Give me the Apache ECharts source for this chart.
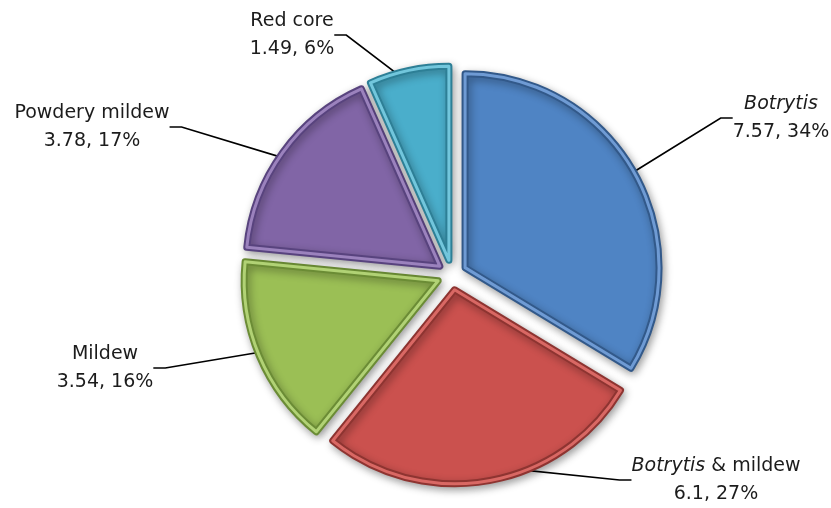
<!DOCTYPE html>
<html>
<head>
<meta charset="utf-8">
<script src="https://cdn.jsdelivr.net/npm/echarts@6/dist/echarts.min.js"></script>
<style>
  html, body { margin: 0; padding: 0; background: #ffffff; }
  #chart { width: 831px; height: 508px; }
</style>
</head>
<body>
<div id="chart"></div>
<script>
// Disease categories and their values (clockwise from 12 o'clock)
const categories = ['Botrytis', 'Botrytis & mildew', 'Mildew', 'Powdery mildew', 'Red core'];
const values = [7.57, 6.1, 3.54, 3.78, 1.49];
// Genus names set in italics inside labels
const italicTerms = ['Botrytis'];

// Styling
const faceColors = ['#4f84c4', '#cb514e', '#9bbf55', '#8165a6', '#4aaecb'];
const edgeColors = ['#32598a', '#8e3431', '#6b8c35', '#58437e', '#2d7f96'];
const ridgeColors = ['#6f9bd4', '#d96864', '#b1d275', '#9b82bd', '#72c6dc'];
// Label block centres [x, y]
const labelPos = [[781, 118], [716, 480], [105, 368], [92, 127], [292, 35]];

const FONT = 'DejaVu Sans';
const CENTER = [452, 275];
const RADIUS = 194;
const EXPLODE = 15;

function nameRich(name) {
  for (const t of italicTerms) {
    if (name.indexOf(t) === 0) {
      const rest = name.slice(t.length);
      return '{i|' + t + '}' + (rest ? '{n|' + rest + '}' : '');
    }
  }
  return '{n|' + name + '}';
}

const pieBase = {
  type: 'pie',
  center: CENTER,
  radius: [0, RADIUS],
  startAngle: 90,
  clockwise: true,
  percentPrecision: 0,
  emphasis: { disabled: true }
};

const chart = echarts.init(document.getElementById('chart'), null, { renderer: 'canvas' });
chart.setOption({
  animation: false,
  backgroundColor: '#ffffff',
  series: [
    // Labels and leader lines, laid under the exploded slices
    Object.assign({}, pieBase, {
      z: 1,
      silent: true,
      itemStyle: { color: 'rgba(0,0,0,0)', borderWidth: 0 },
      label: {
        show: true,
        formatter: p => nameRich(p.name) + '\n{n|' + p.value + ', ' + p.percent + '%}',
        color: '#1c1c1c',
        fontFamily: FONT,
        fontSize: 19,
        lineHeight: 28,
        rich: {
          n: { fontFamily: FONT, fontSize: 19, lineHeight: 28, color: '#1c1c1c' },
          i: { fontFamily: FONT, fontSize: 19, lineHeight: 28, color: '#1c1c1c', fontStyle: 'italic' }
        }
      },
      labelLine: {
        show: true,
        length: 20,
        length2: 12,
        lineStyle: { color: '#000', width: 1.7 }
      },
      labelLayout: p => ({
        x: labelPos[p.dataIndex][0],
        y: labelPos[p.dataIndex][1],
        align: 'center',
        verticalAlign: 'middle'
      }),
      data: categories.map((c, i) => ({ name: c, value: values[i] }))
    }),
    // Exploded slices with a dark rim
    Object.assign({}, pieBase, {
      z: 2,
      silent: true,
      selectedMode: 'multiple',
      selectedOffset: EXPLODE,
      itemStyle: {
        borderWidth: 7,
        borderJoin: 'round',
        shadowBlur: 8,
        shadowOffsetX: 2,
        shadowOffsetY: 3,
        shadowColor: 'rgba(0,0,0,0.32)'
      },
      label: { show: false },
      labelLine: { show: false },
      data: categories.map((c, i) => ({
        name: c,
        value: values[i],
        selected: true,
        itemStyle: { color: faceColors[i], borderColor: edgeColors[i] }
      }))
    }),
    // Lighter bevel ridge inside the rim
    Object.assign({}, pieBase, {
      z: 3,
      silent: true,
      selectedMode: 'multiple',
      selectedOffset: EXPLODE,
      itemStyle: { color: 'rgba(0,0,0,0)', borderWidth: 3, borderJoin: 'round' },
      label: { show: false },
      labelLine: { show: false },
      data: categories.map((c, i) => ({
        name: c,
        value: values[i],
        selected: true,
        itemStyle: { borderColor: ridgeColors[i] }
      }))
    })
  ]
});
</script>
</body>
</html>
